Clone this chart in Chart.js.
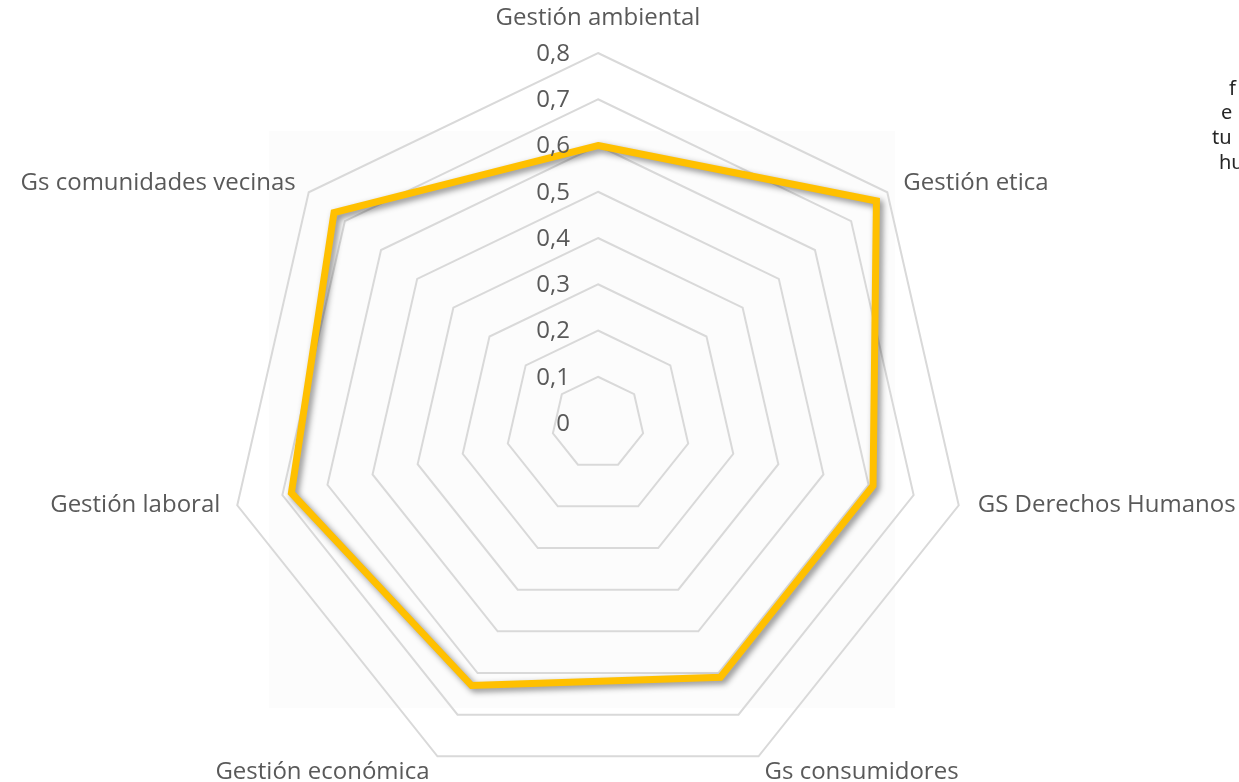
<!DOCTYPE html>
<html>
<head>
<meta charset="utf-8">
<script src="https://cdn.jsdelivr.net/npm/chart.js@4.4.1/dist/chart.umd.min.js"></script>
<style>
  html, body { margin: 0; padding: 0; background: #fff; overflow: hidden; width: 1239px; height: 782px; }
  #wrap { position: absolute; left: 0; top: 0; width: 1239px; height: 800px; }
  .lado { position: absolute; font-family: "Noto Sans", sans-serif; font-size: 20px;
          line-height: 24px; color: #262626; white-space: nowrap; }
</style>
</head>
<body>
<div id="wrap"><canvas id="grafico" width="1239" height="800"></canvas></div>
<div class="lado" style="left:1229px; top:76px">f</div>
<div class="lado" style="left:1221px; top:100px">e</div>
<div class="lado" style="left:1212px; top:125px">tu</div>
<div class="lado" style="left:1219px; top:150px">hu</div>
<script>
const categorias = ['Gestión ambiental', 'Gestión etica', 'GS Derechos Humanos', 'Gs consumidores',
                    'Gestión económica', 'Gestión laboral', 'Gs comunidades vecinas'];
const valores = [0.60, 0.77, 0.61, 0.61, 0.63, 0.68, 0.73];
const escalaMax = 0.8;
const escalaPaso = 0.1;

// colocacion de cada etiqueta respecto del vertice exterior: [alineacion, dx, dy]
const etiquetaDesp = [
  ['center', 0, -35],
  ['left', 16, -9],
  ['left', 19, 0],
  ['left', 6, 16],
  ['right', -8, 16],
  ['right', -17, 0],
  ['right', -13, -9]
];

const fuente = '24px "Open Sans", sans-serif';
const gris = '#595959';

const fmt = v => (Math.abs(v) < 1e-9 ? '0' : v.toFixed(1).replace('.', ','));

// fondo muy tenue del area de trazado
const fondo = {
  id: 'fondo',
  beforeDraw(chart) {
    const c = chart.ctx;
    c.save();
    c.fillStyle = '#fcfcfc';
    c.fillRect(269, 131, 626, 577);
    c.restore();
  }
};

// sombra de la linea
const sombra = {
  id: 'sombra',
  beforeDatasetDraw(chart) {
    const c = chart.ctx;
    c.save();
    c.shadowColor = 'rgba(0,0,0,0.45)';
    c.shadowBlur = 6;
    c.shadowOffsetX = 3;
    c.shadowOffsetY = 3;
  },
  afterDatasetDraw(chart) {
    chart.ctx.restore();
  }
};

// marcas de la escala y nombres de los ejes, al estilo de Excel
const textos = {
  id: 'textos',
  afterDraw(chart) {
    const s = chart.scales.r;
    const c = chart.ctx;
    c.save();
    c.font = fuente;
    c.fillStyle = gris;
    c.textBaseline = 'middle';
    c.textAlign = 'right';
    s.ticks.forEach(t => {
      const d = s.getDistanceFromCenterForValue(t.value);
      c.fillText(fmt(t.value), s.xCenter - 28, s.yCenter - d + 1);
    });
    categorias.forEach((nombre, i) => {
      const p = s.getPointPosition(i, s.drawingArea);
      const [al, dx, dy] = etiquetaDesp[i];
      c.textAlign = al;
      c.fillText(nombre, p.x + dx, p.y + dy);
    });
    c.restore();
  }
};

new Chart(document.getElementById('grafico'), {
  type: 'radar',
  data: {
    labels: categorias,
    datasets: [{
      data: valores,
      borderColor: '#FFC000',
      borderWidth: 7,
      backgroundColor: 'rgba(0,0,0,0)',
      fill: false,
      pointRadius: 0,
      tension: 0,
      borderJoinStyle: 'miter'
    }]
  },
  options: {
    responsive: false,
    animation: false,
    events: [],
    layout: { padding: { left: 228, right: 271, top: 53, bottom: 7 } },
    plugins: { legend: { display: false }, tooltip: { enabled: false } },
    scales: {
      r: {
        min: 0,
        max: escalaMax,
        beginAtZero: true,
        ticks: { stepSize: escalaPaso, display: false },
        grid: { color: '#d9d9d9', lineWidth: 2 },
        angleLines: { display: false },
        pointLabels: { display: false }
      }
    }
  },
  plugins: [fondo, sombra, textos]
});
</script>
</body>
</html>
